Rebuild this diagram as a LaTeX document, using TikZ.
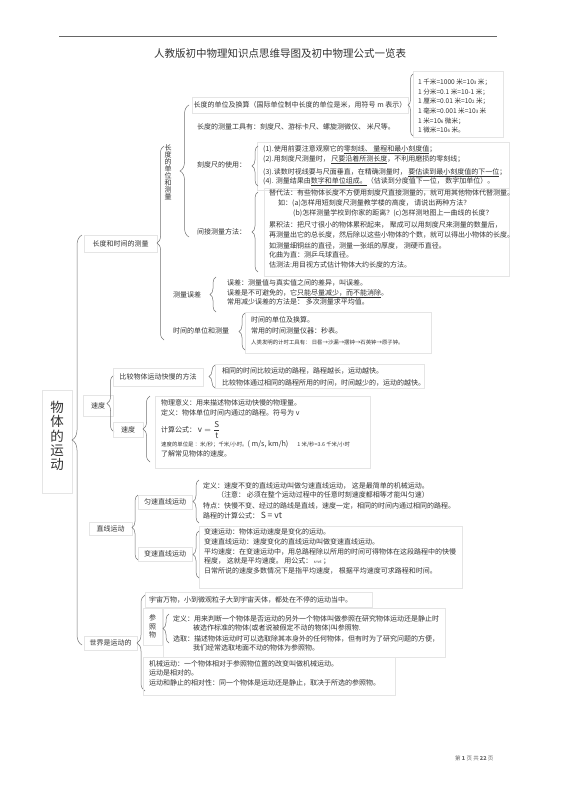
\documentclass[tikz,border=0pt]{standalone}
\usepackage{amsmath}
\usepackage{fontspec}
\setmainfont{Noto Sans CJK SC}
\usepackage{tikz}
\usetikzlibrary{positioning}
\usetikzlibrary{decorations.pathreplacing}
\newcommand{\lowdig}[1]{{\fontsize{4.5}{5}\selectfont #1}}
\colorlet{inkc}{black!80}
\colorlet{boxc}{black!10}
\colorlet{brcc}{black!55}

\begin{document}
\begin{tikzpicture}[x=1pt, y=-1pt,
  txt/.style={anchor=west, inner sep=0pt, text=inkc, text height=5.8pt, text depth=0.6pt, font=\fontsize{7}{7}\selectfont},
  small/.style={txt, font=\fontsize{5.4}{6}\selectfont},
  unit/.style={txt, font=\fontsize{6.6}{7}\selectfont},
  lbl/.style={draw=boxc, line width=.5pt, inner sep=0pt, text=inkc, font=\fontsize{7}{7}\selectfont},
  vlbl/.style={inner sep=0pt, text=inkc, align=center, font=\fontsize{7}{7}\selectfont},
  panel/.style={draw=boxc, line width=.5pt},
  brc/.style={draw=brcc, line width=.5pt, decorate, decoration={brace, mirror, amplitude=#1}},
  brc/.default=6pt]
\useasboundingbox (0,0) rectangle (560,792);
\fill[white] (0,0) rectangle (560,792);
% header
\draw[black!60, line width=.5pt] (59,36) -- (497,36);
\node[txt, anchor=center, font=\fontsize{10.5}{11}\selectfont] (title) at (280,55) {人教版初中物理知识点思维导图及初中物理公式一览表};
% root
\draw[panel] (42,390) rectangle (72,493);
\node[vlbl, font=\fontsize{13.5}{14.3}\selectfont] (root) at (57,436) {物\\体\\的\\运\\动};
\coordinate (rootT) at (82,235);
\coordinate (rootB) at (82,645);
\draw[brc=10pt] (rootT) -- (rootB);

% length and time
\node[lbl, minimum width=73pt, minimum height=17pt] (lenTime) at (120.5,243.5) {长度和时间的测量};
\coordinate (ltT) at (164,146);
\coordinate (ltB) at (164,340);
\draw[brc=7pt] (ltT) -- (ltB);
\node[vlbl] (lenUnit) at (168,172) {长\\度\\的\\单\\位\\和\\测\\量};
\coordinate (luT) at (189,105);
\coordinate (luB) at (189,237);
\draw[brc=9pt] (luT) -- (luB);
\node[lbl, minimum width=216pt, minimum height=16pt] (unitConv) at (300,105) {长度的单位及换算（国际单位制中长度的单位是米，用符号 m 表示）};
% units
\draw[panel] (413,71) rectangle (503,137);
\coordinate (ucT) at (413,74);
\coordinate (ucB) at (413,136);
\draw[brc=5pt] (ucT) -- (ucB);
\node[unit] (u1) at (418,82) {1 千米=1000 米=10\lowdig{3} 米；};
\node[unit] (u2) [below=2.8pt of u1.south west, anchor=north west] {1 分米=0.1 米=10-1 米；};
\node[unit] (u3) [below=2.8pt of u2.south west, anchor=north west] {1 厘米=0.01 米=10\lowdig{2} 米；};
\node[unit] (u4) [below=2.8pt of u3.south west, anchor=north west] {1 毫米=0.001 米=10\lowdig{3} 米};
\node[unit] (u5) [below=2.8pt of u4.south west, anchor=north west] {1 米=10\lowdig{6} 微米；};
\node[unit] (u6) [below=2.8pt of u5.south west, anchor=north west] {1 微米=10\lowdig{6} 米。};
\node[txt] (lenTool) at (197,127) {长度的测量工具有：刻度尺、游标卡尺、螺旋测微仪、 米尺等。};
% ruler
\node[txt] (rulerUse) at (197,165) {刻度尺的使用：};
\draw[panel] (257,142) rectangle (509,190);
\coordinate (ruT) at (258,146);
\coordinate (ruB) at (258,186);
\draw[brc] (ruT) -- (ruB);
\node[txt] (r1) at (263,149) {(1).使用前要注意观察它的\underline{零刻线、 量程和最小刻度值}；};
\node[txt] (r2) at (263,159) {(2).用刻度尺测量时， \underline{尺要沿着所测长度}，不利用磨损的零刻线；};
\node[txt] (r3) at (263,172) {(3).读数时视线要与尺面垂直，在精确测量时， \underline{要估读到最小刻度值的下一位}；};
\node[txt] (r4) at (263,181) {(4). 测量结果由\underline{数字和单位组成。}（估读到分度值下一位， 数字加单位）。};
% indirect
\node[txt] (indirect) at (197,232) {间接测量方法：};
\draw[panel] (264,188) rectangle (509,276);
\coordinate (inT) at (258,192);
\coordinate (inB) at (258,272);
\draw[brc] (inT) -- (inB);
\node[txt] (i1) at (269,193) {替代法：有些物体长度不方便用刻度尺直接测量的，就可用其他物体代替测量。};
\node[txt] (i2) at (278,203) {如：(a)怎样用短刻度尺测量教学楼的高度， 请说出两种方法？};
\node[txt] (i3) at (293,213) {(b)怎样测量学校到你家的距离？(c)怎样测地图上一曲线的长度？};
\node[txt] (i4) at (269,225) {累积法：把尺寸很小的物体累积起来， 聚成可以用刻度尺来测量的数量后，};
\node[txt] (i5) at (269,235) {再测量出它的总长度，然后除以这些小物体的个数，就可以得出小物体的长度。};
\node[txt] (i6) at (269,246) {如测量细铜丝的直径，测量一张纸的厚度， 测硬币直径。};
\node[txt] (i7) at (269,255) {化曲为直：测乒乓球直径。};
\node[txt] (i8) at (269,265) {估测法:用目视方式估计物体大约长度的方法。};
% error
\node[txt] (error) at (173,295) {测量误差};
\coordinate (erT) at (216,277);
\coordinate (erB) at (216,312);
\draw[brc] (erT) -- (erB);
\node[txt] (e1) at (227,283) {误差：测量值与真实值之间的差异，叫误差。};
\node[txt] (e2) at (227,293) {误差是不可避免的，它\underline{只能尽量减少，而不能消除}。};
\node[txt] (e3) at (227,302) {常用减少误差的方法是： 多次测量求平均值。};
% time
\node[txt] (timeMeas) at (173,331) {时间的单位和测量};
\draw[panel] (245,312) rectangle (431,353);
\coordinate (tmT) at (245,313);
\coordinate (tmB) at (245,350);
\draw[brc] (tmT) -- (tmB);
\node[txt] (t1) at (251,320) {时间的单位及换算。};
\node[txt] (t2) at (251,331) {常用的时间测量仪器：秒表。};
\node[small] (t3) at (251,342) {人类发明的计时工具有： 日晷→沙漏→摆钟→石英钟→原子钟。};

% speed
\node[lbl, minimum width=30pt, minimum height=21pt] (speed) at (98,405.5) {速度};
\coordinate (spT) at (114,375);
\coordinate (spB) at (114,432);
\draw[brc=7pt] (spT) -- (spB);
\node[lbl, minimum width=90pt, minimum height=18pt] (compare) at (158,377) {比较物体运动快慢的方法};
\draw[panel] (215,364) rectangle (424,388);
\coordinate (cpT) at (215,365);
\coordinate (cpB) at (215,388);
\draw[brc] (cpT) -- (cpB);
\node[txt] (c1) at (222,371) {相同的时间比较运动的路程，路程越长，运动越快。};
\node[txt] (c2) at (222,383) {比较物体通过相同的路程所用的时间，时间越少的，运动的越快。};
\node[lbl, minimum width=30pt, minimum height=15pt] (speedDef) at (128,429.5) {速度};
\draw[panel] (155,396) rectangle (370,468);
\coordinate (sdT) at (150,396);
\coordinate (sdB) at (150,462);
\draw[brc=7pt] (sdT) -- (sdB);
\node[txt] (s1) at (161,403) {物理意义：用来描述物体运动快慢的物理量。};
\node[txt] (s2) at (161,413) {定义：物体单位时间内通过的路程。符号为 v};
\node[txt] (s3) at (161,430) {计算公式： {\fontsize{8}{9}\selectfont$\text{v} = \dfrac{\text{S}}{\text{t}}$}};
\node[small] (s4) at (161,444) {速度的单位是 ：米/秒；千米/小时。{\fontsize{7.2}{8}\selectfont ( m/s, km/h)}\hspace{9pt}1 米/秒=3.6 千米/小时};
\node[txt] (s5) at (161,454) {了解常见物体的速度。};

% straight line motion
\node[lbl, minimum width=43pt, minimum height=13pt] (straight) at (110.5,528.5) {直线运动};
\coordinate (stT) at (138,495);
\coordinate (stB) at (138,560);
\draw[brc] (stT) -- (stB);
\node[lbl, minimum width=54pt, minimum height=14pt] (uniform) at (165,502) {匀速直线运动};
\coordinate (unT) at (199,480);
\coordinate (unB) at (199,523);
\draw[brc] (unT) -- (unB);
\node[txt] (a1) at (203,486) {定义：速度不变的直线运动叫做匀速直线运动， 这是最简单的机械运动。};
\node[txt] (a2) at (217,495) {（注意： 必须在整个运动过程中的任意时刻速度都相等才能叫匀速）};
\node[txt] (a3) at (203,506) {特点：快慢不变、经过的路线是直线，速度一定，相同的时间内通过相同的路程。};
\node[txt] (a4) at (203,516) {路程的计算公式： {\fontsize{8.5}{9}\selectfont S = vt}};
\node[lbl, minimum width=54pt, minimum height=14pt] (variable) at (165,554) {变速直线运动};
\draw[panel] (199,526) rectangle (462,588);
\coordinate (vaT) at (199,531);
\coordinate (vaB) at (199,578);
\draw[brc] (vaT) -- (vaB);
\node[txt] (v1) at (204,532) {变速运动：物体运动速度是变化的运动。};
\node[txt] (v2) at (204,542) {变速直线运动：速度变化的直线运动叫做变速直线运动。};
\node[txt] (v3) at (204,552) {平均速度：在变速运动中，用总路程除以所用的时间可得物体在这段路程中的快慢};
\node[txt] (v4) at (204,561) {程度， 这就是平均速度。 用公式： {\fontsize{4}{4}\selectfont s=vt} ；};
\node[txt] (v5) at (204,571) {日常所说的速度多数情况下是指平均速度， 根据平均速度可求路程和时间。};

% the world moves
\node[lbl, minimum width=53pt, minimum height=14pt] (world) at (110.5,643) {世界是运动的};
\coordinate (woT) at (145,595);
\coordinate (woB) at (145,691);
\draw[brc=8pt] (woT) -- (woB);
\draw[panel] (145,592) rectangle (372,607);
\node[txt] (cosmos) at (149,600) {宇宙万物，小到微观粒子大到宇宙天体，都处在不停的运动当中。};
\node[lbl, align=center, font=\fontsize{7}{8.5}\selectfont, minimum width=19pt, minimum height=37pt] (refObj) at (152.5,626.5) {参\\照\\物};
\draw[panel] (163,608) rectangle (445,657);
\coordinate (roT) at (169,614);
\coordinate (roB) at (169,643);
\draw[brc] (roT) -- (roB);
\node[txt] (f1) at (173,619) {定义：用来判断一个物体是否运动的另外一个物体叫做参照在研究物体运动还是静止时};
\node[txt] (f2) at (193,628) {被选作标准的物体(或者说被假定不动的物体)叫参照物.};
\node[txt] (f3) at (173,639) {选取：描述物体运动时可以选取除其本身外的任何物体，但有时为了研究问题的方便，};
\node[txt] (f4) at (193,648) {我们经常选取地面不动的物体为参照物。};
\draw[panel] (143,657) rectangle (395,695);
\node[txt] (m1) at (149,664) {机械运动：一个物体相对于参照物位置的改变叫做机械运动。};
\node[txt] (m2) at (149,673) {运动是相对的。};
\node[txt] (m3) at (149,683) {运动和静止的相对性：同一个物体是运动还是静止，取决于所选的参照物。};

% footer
\node[txt, font=\fontsize{5.5}{6}\selectfont, text=black!60] (page) at (455,758) {第 \textbf{1} 页 共 \textbf{22} 页};
\end{tikzpicture}
\end{document}
